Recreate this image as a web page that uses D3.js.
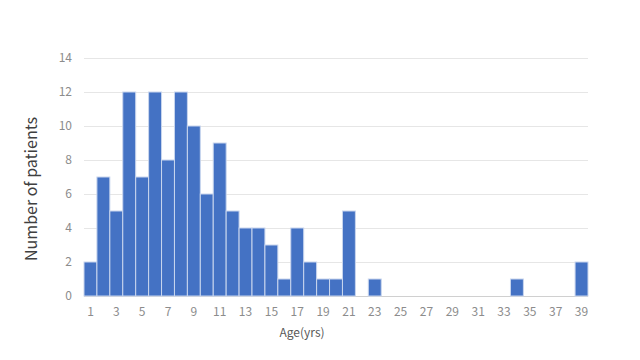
<!DOCTYPE html>
<html>
<head>
<meta charset="utf-8">
<script src="https://cdn.jsdelivr.net/npm/d3@7"></script>
<style>
  body { margin: 0; background: #fff; }
  text { font-family: "Noto Sans CJK JP", "Noto Sans", sans-serif; }
</style>
</head>
<body>
<div id="chart"></div>
<script>
// ages 1..39 and patient counts
var ages = d3.range(1, 40)
var counts = [2, 7, 5, 12, 7, 12, 8, 12, 10, 6, 9, 5, 4, 4, 3, 1, 4, 2, 1, 1, 5, 0, 1,
  0, 0, 0, 0, 0, 0, 0, 0, 0, 0, 1, 0, 0, 0, 0, 2]
var yTicks = [0, 2, 4, 6, 8, 10, 12, 14]
var xTickAges = ages.filter(a => a % 2 == 1)

var data = ages.map((a, i) => ({age: a, n: counts[i]}))

var width = 640, height = 360
var m = {left: 84, right: 52, top: 58, bottom: 64}

var svg = d3.select('#chart').append('svg')
  .attr('width', width).attr('height', height)

var x = d3.scaleBand()
  .domain(ages)
  .range([m.left, width - m.right])
  .paddingInner(0)

var y = d3.scaleLinear()
  .domain([0, 14])
  .range([height - m.bottom, m.top])

// gridlines
svg.selectAll('line.grid').data(yTicks).enter().append('line')
  .attr('class', 'grid')
  .attr('x1', m.left).attr('x2', width - m.right)
  .attr('y1', d => y(d) + 0.5).attr('y2', d => y(d) + 0.5)
  .attr('stroke', d => d == 0 ? '#d0d0d0' : '#e6e6e6')
  .attr('stroke-width', 1)

// y tick labels
svg.selectAll('text.ytick').data(yTicks).enter().append('text')
  .attr('class', 'ytick')
  .attr('x', m.left - 12)
  .attr('y', d => y(d))
  .attr('dy', '0.35em')
  .attr('text-anchor', 'end')
  .attr('fill', '#8c8c8c')
  .attr('font-size', 12)
  .text(d => d)

// bars
svg.selectAll('rect.bar').data(data.filter(d => d.n > 0)).enter().append('rect')
  .attr('class', 'bar')
  .attr('x', d => x(d.age))
  .attr('width', x.bandwidth())
  .attr('y', d => y(d.n))
  .attr('height', d => y(0) - y(d.n))
  .attr('fill', '#4472c4')
  .attr('stroke', '#c9d6ee')
  .attr('stroke-width', 1)

// x tick labels
svg.selectAll('text.xtick').data(xTickAges).enter().append('text')
  .attr('class', 'xtick')
  .attr('x', d => x(d) + x.bandwidth() / 2)
  .attr('y', y(0) + 20)
  .attr('text-anchor', 'middle')
  .attr('fill', '#8c8c8c')
  .attr('font-size', 12)
  .text(d => d)

// axis titles
svg.append('text')
  .attr('x', 302).attr('y', 337)
  .attr('text-anchor', 'middle')
  .attr('fill', '#595959')
  .attr('font-size', 12)
  .text('Age(yrs)')

svg.append('text')
  .attr('transform', 'translate(37,' + 189 + ') rotate(-90)')
  .attr('text-anchor', 'middle')
  .attr('fill', '#404040')
  .attr('font-size', 16)
  .text('Number of patients')
</script>
</body>
</html>
